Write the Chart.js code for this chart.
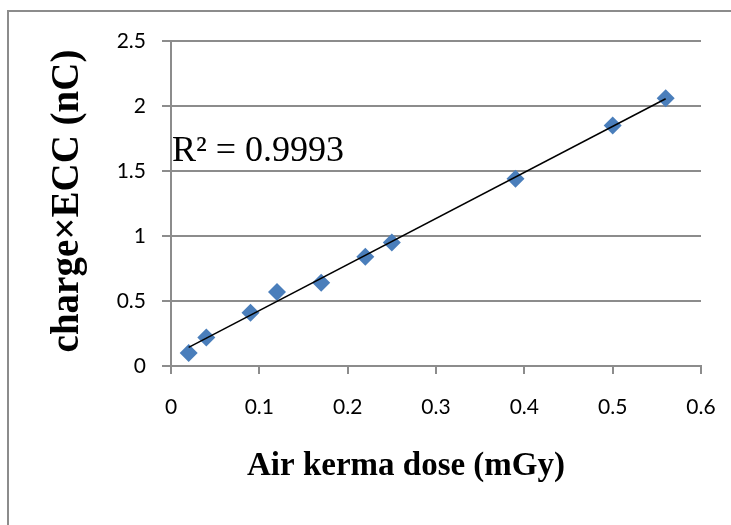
<!DOCTYPE html>
<html>
<head>
<meta charset="utf-8">
<script src="https://cdn.jsdelivr.net/npm/chart.js@4/dist/chart.umd.min.js"></script>
<style>
  html, body { margin: 0; padding: 0; background: #fff; }
  #frame { position: absolute; left: 7px; top: 10px; width: 724px; height: 515px;
           border-left: 2px solid #8c8c8c; border-top: 2px solid #8c8c8c; }
  #wrap { position: absolute; left: 0; top: 0; width: 731px; height: 525px; }
</style>
</head>
<body>
<div id="frame"></div>
<div id="wrap"><canvas id="grafico" width="731" height="525"></canvas></div>
<script>
// dados
const doses = [0.02, 0.04, 0.09, 0.12, 0.17, 0.22, 0.25, 0.39, 0.50, 0.56];
const cargas = [0.10, 0.22, 0.41, 0.57, 0.64, 0.84, 0.95, 1.44, 1.85, 2.06];
const xTicks = [0, 0.1, 0.2, 0.3, 0.4, 0.5, 0.6];
const yTicks = [0, 0.5, 1, 1.5, 2, 2.5];
const rotuloR2 = "R² = 0.9993";
const tituloX = "Air kerma dose (mGy)";
const tituloY = "charge×ECC (nC)";

// linha de tendência (mínimos quadrados)
const n = doses.length;
const mx = doses.reduce((a, b) => a + b, 0) / n;
const my = cargas.reduce((a, b) => a + b, 0) / n;
let sxy = 0, sxx = 0;
for (let i = 0; i < n; i++) {
    sxy += (doses[i] - mx) * (cargas[i] - my);
    sxx += (doses[i] - mx) * (doses[i] - mx);
}
const inclinacao = sxy / sxx;
const intercepto = my - inclinacao * mx;
const xMin = Math.min(...doses), xMax = Math.max(...doses);
const tendencia = [
    { x: xMin, y: intercepto + inclinacao * xMin },
    { x: xMax, y: intercepto + inclinacao * xMax }
];

const pontos = doses.map((d, i) => ({ x: d, y: cargas[i] }));

// textos extras (títulos e R²)
const textos = {
    id: "textos",
    afterDraw(chart) {
        const ctx = chart.ctx;
        const area = chart.chartArea;
        ctx.save();
        ctx.fillStyle = "#000";
        ctx.font = "36px 'Liberation Serif'";
        ctx.textAlign = "left";
        ctx.textBaseline = "alphabetic";
        ctx.fillText(rotuloR2, area.left + 1, 161);

        ctx.font = "bold 33px 'Liberation Serif'";
        ctx.textAlign = "center";
        ctx.textBaseline = "middle";
        ctx.fillText(tituloX, 406, 466);

        ctx.font = "bold 39px 'Liberation Serif'";
        ctx.translate(68, 201);
        ctx.rotate(-Math.PI / 2);
        ctx.fillText(tituloY, 0, 0);
        ctx.restore();
    }
};

new Chart(document.getElementById("grafico"), {
    type: "scatter",
    data: {
        datasets: [
            {
                label: "pontos",
                data: pontos,
                pointStyle: "rectRot",
                pointRadius: 9,
                pointHoverRadius: 9,
                backgroundColor: "#4a7ebb",
                borderColor: "#4a7ebb",
                borderWidth: 0,
                order: 2
            },
            {
                label: "tendência",
                type: "line",
                data: tendencia,
                borderColor: "#000",
                borderWidth: 1.5,
                pointRadius: 0,
                fill: false,
                order: 1
            }
        ]
    },
    plugins: [textos],
    options: {
        responsive: false,
        animation: false,
        layout: { padding: { top: 41, right: 30, left: 0, bottom: 0 } },
        plugins: {
            legend: { display: false },
            tooltip: { enabled: false }
        },
        scales: {
            x: {
                type: "linear",
                min: 0,
                max: 0.6,
                afterFit(s) {
                    s.height = 525 - 366;
                    s.paddingLeft = 0;
                    s.paddingRight = 0;
                },
                afterBuildTicks(s) { s.ticks = xTicks.map(v => ({ value: v })); },
                grid: {
                    drawOnChartArea: false,
                    drawTicks: true,
                    tickLength: 8,
                    color: "#8c8c8c",
                    lineWidth: 2
                },
                border: { color: "#8c8c8c", width: 2 },
                ticks: {
                    padding: 21,
                    color: "#000",
                    font: { family: "Lato", size: 21 },
                    callback: v => String(v)
                }
            },
            y: {
                type: "linear",
                min: 0,
                max: 2.5,
                afterFit(s) {
                    s.width = 171;
                    s.paddingTop = 0;
                    s.paddingBottom = 0;
                },
                afterBuildTicks(s) { s.ticks = yTicks.map(v => ({ value: v })); },
                grid: {
                    drawTicks: true,
                    tickLength: 9,
                    color: "#8c8c8c",
                    lineWidth: 2
                },
                border: { color: "#8c8c8c", width: 2 },
                ticks: {
                    padding: 16,
                    color: "#000",
                    font: { family: "Lato", size: 21 },
                    callback: v => String(v)
                }
            }
        }
    }
});
</script>
</body>
</html>
